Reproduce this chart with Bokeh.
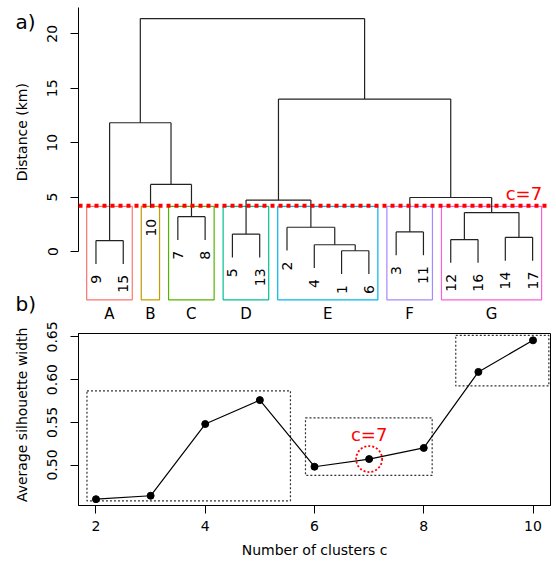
import math
from bokeh.plotting import figure
from bokeh.layouts import column, row
from bokeh.models import Range1d, FixedTicker, Span, LinearAxis
from bokeh.core.properties import value
from bokeh.embed import file_html
from bokeh.resources import INLINE

FONT = "DejaVu Sans"

# ---------------- data: dendrogram (panel a) ----------------
leaf_order = [9, 15, 10, 7, 8, 5, 13, 2, 4, 1, 6, 3, 11, 12, 16, 14, 17]
# R hclust-style merge table: negative = leaf id, positive = earlier merge (1-based)
merge_left = [-1, -4, -9, -12, -14, -5, -3, -2, -7, 4, 6, 7, -10, 3, 11, 14]
merge_right = [-6, 1, -15, -16, -17, -13, -11, 2, -8, 5, 8, 10, 9, 13, 12, 15]
merge_height = [0.07, 0.62, 1.0, 1.1, 1.3, 1.6, 1.8, 2.23, 3.2, 3.58,
                4.72, 4.96, 6.16, 11.83, 14.0, 21.4]
cut_height = 4.2
n_groups = 7
group_names = ["A", "B", "C", "D", "E", "F", "G"]
group_colors = ["#F8766D", "#C49A00", "#53B400", "#00C094", "#00B6EB", "#A58AFF", "#FB61D7"]
dist_ticks = [0, 5, 10, 15, 20]

# ---------------- data: silhouette (panel b) ----------------
n_clusters = [2, 3, 4, 5, 6, 7, 8, 9, 10]
avg_sil = [0.460, 0.464, 0.548, 0.576, 0.498, 0.507, 0.520, 0.609, 0.646]
region_left = [1.835, 5.835, 8.586]
region_right = [5.56, 8.154, 10.29]
region_bottom = [0.4581, 0.4878, 0.5926]
region_top = [0.5869, 0.5551, 0.6518]
sil_xticks = [2, 4, 6, 8, 10]
sil_yticks = [0.50, 0.55, 0.60, 0.65]
chosen_c = 7

# ---------------- layout constants (pixels) ----------------
W, H = 556, 562
STRIP = 40                 # left strip holding panel tags and y titles
AX_X = 78                  # x of both y axes
FR_RIGHT = 550             # right edge of both plot regions
H1 = 301                   # height of panel a canvas
T_TOP = 7                  # panel a frame top
PX_LEAF = 27.29            # pixels between leaves
PX_UNIT = 10.885           # pixels per km
ZERO_Y = 251               # pixel row of distance 0
B_TOP = 324                # panel b frame top (absolute)
B_BOT = 505                # panel b frame bottom (absolute)

n_leaves = len(leaf_order)
lx0 = 1 - 0.04 * (n_leaves - 1)
lx1 = lx0 + (FR_RIGHT - AX_X) / PX_LEAF
ty1 = (ZERO_Y - T_TOP) / PX_UNIT
ty0 = (ZERO_Y - H1) / PX_UNIT
box_bottom = (ZERO_Y - 299.3) / PX_UNIT
hang = 0.1

# ---------------- dendrogram geometry ----------------
pos = {leaf: i + 1 for i, leaf in enumerate(leaf_order)}
max_h = max(merge_height)
node_x = {}
sx0, sy0, sx1, sy1 = [], [], [], []
leaf_x, leaf_y, leaf_txt = [], [], []


def child_xy(c, parent_h):
    if c < 0:
        x = pos[-c]
        y = parent_h - hang * max_h
        leaf_x.append(x)
        leaf_y.append(y)
        leaf_txt.append(str(-c))
        return x, y
    return node_x[c], merge_height[c - 1]


for m in range(1, len(merge_height) + 1):
    h = merge_height[m - 1]
    xl, yl = child_xy(merge_left[m - 1], h)
    xr, yr = child_xy(merge_right[m - 1], h)
    node_x[m] = (xl + xr) / 2
    sx0 += [xl, xl, xr]
    sy0 += [yl, h, yr]
    sx1 += [xl, xr, xr]
    sy1 += [h, h, h]


def leaves_of(c):
    if c < 0:
        return [-c]
    return leaves_of(merge_left[c - 1]) + leaves_of(merge_right[c - 1])


groups = []


def cut(c):
    if c < 0 or merge_height[c - 1] < cut_height:
        groups.append(leaves_of(c))
        return
    cut(merge_left[c - 1])
    cut(merge_right[c - 1])


cut(len(merge_height))
groups.sort(key=lambda g: min(pos[l] for l in g))
hs = sorted(merge_height, reverse=True)
box_top = (hs[n_groups - 2] + hs[n_groups - 1]) / 2
g_left = [min(pos[l] for l in g) - 0.34 for g in groups]
g_right = [max(pos[l] for l in g) + 0.33 for g in groups]
g_center = [(l + r) / 2 for l, r in zip(g_left, g_right)]


def style_axis(a, ticks, orient=None, standoff=5):
    a.ticker = FixedTicker(ticks=ticks)
    a.axis_line_color = "black"
    a.major_tick_line_color = "black"
    a.major_tick_out = 8
    a.major_tick_in = 0
    a.minor_tick_line_color = None
    a.major_label_text_font = FONT
    a.major_label_text_font_size = "14px"
    a.major_label_text_color = "black"
    a.major_label_standoff = standoff
    if orient:
        a.major_label_orientation = orient


# ---------------- strip with tags and y titles ----------------
ps = figure(width=STRIP, height=H, x_range=Range1d(0, STRIP), y_range=Range1d(H, 0),
            output_backend="svg", toolbar_location=None, title=None,
            x_axis_location=None, y_axis_location=None,
            min_border_left=0, min_border_right=0, min_border_top=0, min_border_bottom=0)
ps.outline_line_color = None
ps.grid.visible = False
ps.text(x=[15, 15], y=[21, 303], text=["a)", "b)"], text_align="left",
        text_baseline="middle", text_font=value(FONT), text_font_size="20px",
        text_color="black")
ps.text(x=[21, 21.7], y=[131.7, 414.3], text=["Distance (km)", "Average silhouette width"],
        angle=math.pi / 2, text_align="center", text_baseline="middle",
        text_font=value(FONT), text_font_size="14px", text_color="black")

# ---------------- panel a ----------------
p1 = figure(width=W - STRIP, height=H1, x_range=Range1d(lx0, lx1), y_range=Range1d(ty0, ty1),
            output_backend="svg", toolbar_location=None, x_axis_location=None,
            title=None, min_border_left=AX_X - STRIP, min_border_right=W - FR_RIGHT,
            min_border_top=T_TOP, min_border_bottom=0)
p1.outline_line_color = None
p1.grid.visible = False
style_axis(p1.yaxis[0], dist_ticks, "vertical", 13)
p1.yaxis[0].bounds = (0, ty1)

p1.quad(left=g_left, right=g_right, bottom=box_bottom, top=box_top,
        fill_color=None, line_color=group_colors, line_width=1.2)
p1.segment(x0=sx0, y0=sy0, x1=sx1, y1=sy1, line_color="#222222", line_width=1.2)
label_gap = 11 / PX_UNIT
p1.text(x=leaf_x, y=[v - label_gap for v in leaf_y], text=leaf_txt, angle=math.pi / 2,
        text_align="right", text_baseline="middle", text_font=value(FONT),
        text_font_size="14px", text_color="black")
p1.add_layout(Span(location=cut_height, dimension="width", line_color="red",
                   line_width=4, line_dash="4 4"))
p1.text(x=[n_leaves - 0.32], y=[cut_height + 1.13], text=["c=" + str(n_groups)],
        text_align="center", text_baseline="middle", text_font=value(FONT),
        text_font_size="18px", text_color="red")

# ---------------- panel b ----------------
bx0, bx1 = 1.68, 10.32
by0, by1 = 0.4526, 0.654
p2 = figure(width=W - STRIP, height=H - H1, x_range=Range1d(bx0, bx1),
            y_range=Range1d(by0, by1), output_backend="svg", toolbar_location=None,
            title=None, min_border_left=AX_X - STRIP, min_border_right=W - FR_RIGHT,
            min_border_top=B_TOP - H1, min_border_bottom=H - B_BOT)
p2.outline_line_color = "black"
p2.outline_line_width = 1
p2.grid.visible = False
style_axis(p2.xaxis[0], sil_xticks, None, 7)
style_axis(p2.yaxis[0], sil_yticks, "vertical", 13)
p2.yaxis[0].major_label_overrides = {t: f"{t:.2f}" for t in sil_yticks}
p2.xaxis[0].axis_label = "Number of clusters c"
p2.xaxis[0].axis_label_text_font = FONT
p2.xaxis[0].axis_label_text_font_size = "14px"
p2.xaxis[0].axis_label_text_font_style = "normal"
p2.xaxis[0].axis_label_text_color = "black"
p2.xaxis[0].axis_label_standoff = 8

# cluster letters of panel a, on the leaf scale shared with panel a
p2.extra_x_ranges = {"leaf": Range1d(lx0, lx1)}
letters = LinearAxis(x_range_name="leaf", ticker=FixedTicker(ticks=g_center),
                     major_label_overrides={c: n for c, n in zip(g_center, group_names)},
                     axis_line_color=None, major_tick_line_color=None,
                     minor_tick_line_color=None, major_label_standoff=5,
                     major_label_text_font=FONT, major_label_text_font_size="15px",
                     major_label_text_color="black")
p2.add_layout(letters, "above")

p2.quad(left=region_left, right=region_right, bottom=region_bottom, top=region_top,
        fill_color=None, line_color="#333333", line_width=1.2, line_dash="2 2")
p2.line(n_clusters, avg_sil, line_color="black", line_width=1.2)
p2.scatter(n_clusters, avg_sil, size=7, fill_color="black", line_color="black")
sel = n_clusters.index(chosen_c)
p2.scatter([chosen_c], [avg_sil[sel]], size=26, fill_color=None, line_color="red",
           line_width=1.8, line_dash="2 2")
p2.text(x=[chosen_c], y=[avg_sil[sel] + 0.0293], text=["c=" + str(chosen_c)],
        text_align="center", text_baseline="middle", text_font=value(FONT),
        text_font_size="18px", text_color="red")

layout = row(ps, column(p1, p2, spacing=0), spacing=0)
open("out.html", "w").write(file_html(layout, INLINE))
